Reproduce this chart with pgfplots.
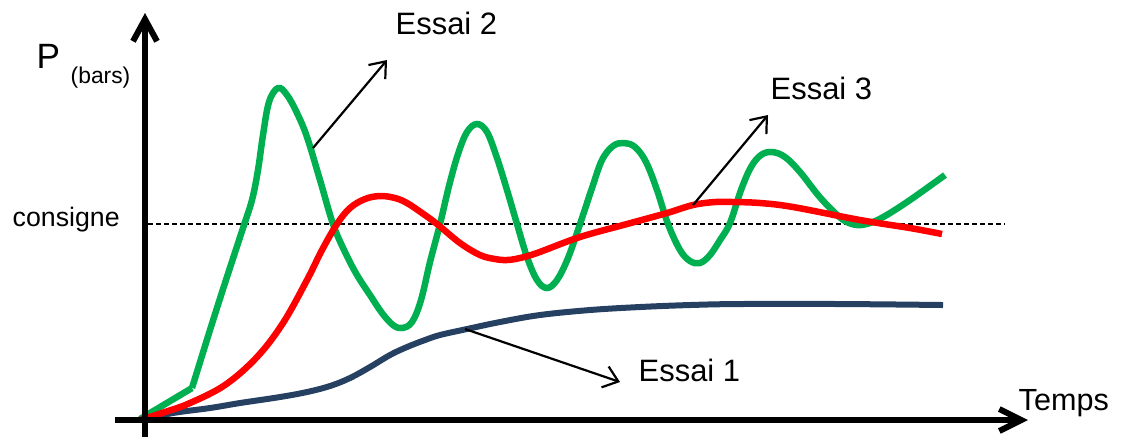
\documentclass[border=0pt]{standalone}
\usepackage{pgfplots}
\pgfplotsset{compat=1.18}
\usetikzlibrary{arrows.meta}
\usepackage{fontspec}
\setmainfont{Liberation Sans}

\definecolor{essaiA}{RGB}{38,64,98}
\definecolor{essaiB}{RGB}{0,176,80}
\definecolor{essaiC}{RGB}{255,0,0}

\begin{document}
\begin{tikzpicture}
\begin{axis}[
  width=112.1mm, height=43.7mm, scale only axis,
  xmin=0, xmax=1121, ymin=0, ymax=437, y dir=reverse,
  axis lines=none, clip=false,
]
\path (axis cs:0,0) rectangle (axis cs:1121,437);

% consigne
\draw[black, line width=0.2mm, dash pattern=on 0.5mm off 0.3mm]
  (axis cs:148,224) -- (axis cs:1005,224);

% Essai 1
\addplot[essaiA, line width=0.6mm, smooth, tension=0.6] coordinates {
  (140,420) (173,413) (210,408) (240,403) (280,397) (307,392) (330,386)
  (350,378) (370,367) (390,355) (407,347) (425,340) (440,335) (467,329)
  (500,322) (540,315) (590,310) (640,307) (690,305) (740,304) (840,304) (943,305)
};

% Essai 2
\addplot[essaiB, line width=0.65mm] coordinates {(140,419) (192,388)};
\addplot[essaiB, line width=0.65mm, smooth, tension=0.6] coordinates {
  (192,388) (210,330) (225,283) (243,228) (252,200) (258,170) (263,135)
  (269,102) (278,88) (287,95) (297,113) (307,137) (320,180) (333,224)
  (345,252) (357,275) (370,295) (382,313) (393,325) (402,328) (412,322)
  (421,300) (430,262) (440,224) (449,186) (458,154) (467,132) (477,124)
  (487,132) (497,158) (507,190) (517,224) (527,257) (537,280) (547,288)
  (557,280) (568,258) (580,224) (592,188) (602,160) (613,146) (624,143)
  (635,147) (646,162) (657,190) (668,224) (680,250) (690,261) (700,263)
  (710,255) (720,240) (730,223) (741,190) (751,167) (761,155) (772,152)
  (785,157) (800,172) (818,195) (833,211) (845,221) (857,225) (870,223)
  (885,216) (910,200) (945,175)
};

% Essai 3
\addplot[essaiC, line width=0.65mm, smooth, tension=0.6] coordinates {
  (140,420) (165,412) (190,403) (225,385) (257,357) (283,323) (307,280)
  (322,250) (337,224) (350,208) (365,199) (380,196) (395,198) (407,203)
  (422,213) (437,224) (460,243) (480,255) (495,259) (507,260) (520,258)
  (537,253) (580,237) (627,224) (667,213) (693,205) (715,202) (733,202)
  (760,203) (793,207) (860,220) (910,228) (942,234)
};

% axes
\draw[line width=0.6mm, -{Straight Barb[length=2.2mm, width=2.4mm]}]
  (axis cs:145,437) -- (axis cs:145,13);
\draw[line width=0.6mm, -{Straight Barb[length=2.2mm, width=2.2mm]}]
  (axis cs:115,420) -- (axis cs:1028,420);

% annotations
\draw[line width=0.22mm, -{Straight Barb[length=1.4mm, width=2.2mm]}]
  (axis cs:313,148) -- (axis cs:387,60);
\draw[line width=0.22mm, -{Straight Barb[length=1.4mm, width=2.2mm]}]
  (axis cs:693,205) -- (axis cs:768,115);
\draw[line width=0.22mm, -{Straight Barb[length=1.4mm, width=2.2mm]}]
  (axis cs:465,329) -- (axis cs:620,382);

\node[anchor=base west, inner sep=0pt, font=\fontsize{8.8}{10}\selectfont] at (axis cs:395,34) {Essai 2};
\node[anchor=base west, inner sep=0pt, font=\fontsize{8.8}{10}\selectfont] at (axis cs:770,99) {Essai 3};
\node[anchor=base west, inner sep=0pt, font=\fontsize{8.8}{10}\selectfont] at (axis cs:638,381) {Essai 1};
\node[anchor=base west, inner sep=0pt, font=\fontsize{8.7}{10}\selectfont] at (axis cs:1018,410) {Temps};
\node[anchor=base west, inner sep=0pt, font=\fontsize{7.6}{9}\selectfont] at (axis cs:12,226) {consigne};
\node[anchor=base west, inner sep=0pt, font=\fontsize{10}{12}\selectfont] at (axis cs:36,68) {P};
\node[anchor=base west, inner sep=0pt, font=\fontsize{6.5}{8}\selectfont] at (axis cs:70,83) {(bars)};
\end{axis}
\end{tikzpicture}
\end{document}
